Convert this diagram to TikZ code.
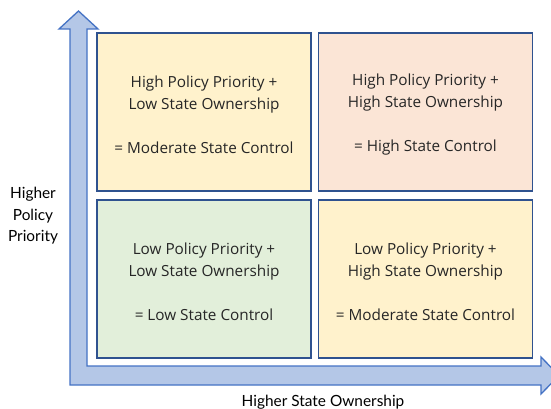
\documentclass[tikz,border=0pt]{standalone}
\usepackage{fontspec}
\setmainfont{Open Sans}
\newfontfamily\axisfont{Lato}
\begin{document}
\definecolor{arrowfill}{HTML}{B4C7E7}
\definecolor{arrowline}{HTML}{4472C4}
\definecolor{boxline}{HTML}{2F528F}
\definecolor{fillyellow}{HTML}{FFF2CC}
\definecolor{fillpeach}{HTML}{FBE5D6}
\definecolor{fillgreen}{HTML}{E2EFDA}
\definecolor{ink}{HTML}{262626}
\begin{tikzpicture}[x=1pt,y=-1pt,
  quad/.style={draw=boxline, line width=1.6pt, minimum width=214pt, minimum height=158pt,
    inner sep=0pt},
  quadtext/.style={align=center, text=ink, inner sep=0pt, yshift=-3pt,
    font=\fontsize{15.3}{22}\selectfont},
  axislabel/.style={align=center, text=black, font=\axisfont\fontsize{15.4}{21.5}\selectfont}]
\useasboundingbox (0,0) rectangle (551,409);
% L-shaped double-headed axis arrow
\filldraw[fill=arrowfill, draw=arrowline, line width=1.3pt, line join=miter]
  (70,29) -- (59,29) -- (78.5,11) -- (98,29) -- (87,29) -- (87,366) -- (541,366)
  -- (541,357) -- (559,375.5) -- (541,394) -- (541,385) -- (70,385) -- cycle;
% quadrants
\node[quad, fill=fillyellow] (hl) at (204,112) {};
\node[quadtext] (hlt) at (hl.center)
  {High Policy Priority +\\Low State Ownership\\\\= Moderate State Control};
\node[quad, fill=fillpeach] (hh) at (425.5,112) {};
\node[quadtext] (hht) at (hh.center)
  {High Policy Priority +\\High State Ownership\\\\= High State Control};
\node[quad, fill=fillgreen] (ll) at (204,279) {};
\node[quadtext] (llt) at (ll.center)
  {Low Policy Priority +\\Low State Ownership\\\\= Low State Control};
\node[quad, fill=fillyellow] (lh) at (425.5,279) {};
\node[quadtext] (lht) at (lh.center)
  {Low Policy Priority +\\High State Ownership\\\\= Moderate State Control};
% axis labels
\node[axislabel] (ylab) at (33,216) {Higher\\Policy\\Priority};
\node[axislabel] (xlab) at (323,402) {Higher State Ownership};
\end{tikzpicture}
\end{document}
